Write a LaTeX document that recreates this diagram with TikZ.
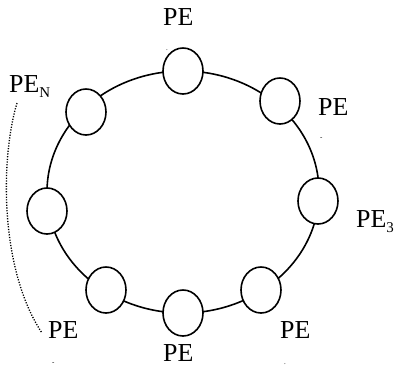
\documentclass[tikz,border=0pt]{standalone}
\usepackage{fontspec}
\setmainfont{Liberation Serif}
\usetikzlibrary{shapes.geometric}
\newcommand{\sbs}[1]{\raisebox{-0.22em}{\fontsize{15}{15}\selectfont #1}}
\begin{document}
\begin{tikzpicture}[x=1bp,y=-1bp,
  pe/.style={draw,line width=1.6bp,fill=white,ellipse,minimum width=40bp,minimum height=46bp,inner sep=0pt},
  lbl/.style={anchor=base west,inner sep=0pt,font=\fontsize{26}{26}\selectfont},
  tickmark/.style={anchor=base west,inner sep=0pt,font=\fontsize{7}{7}\selectfont},
  ring/.style={line width=1.6bp},
  dots/.style={line width=1.3bp,dash pattern=on 1.2bp off 1.5bp}]
\useasboundingbox (0,0) rectangle (398,368);
\draw[ring] (183,192) ellipse [x radius=136, y radius=121];
\node[pe] (p1) at (183,71) {};
\node[pe] (p2) at (280,101) {};
\node[pe] (p3) at (318,201) {};
\node[pe] (p4) at (261,290) {};
\node[pe] (p5) at (183,313) {};
\node[pe] (p6) at (106,290) {};
\node[pe] (p7) at (47,211) {};
\node[pe] (p8) at (86,112) {};
\node[lbl] (l1) at (163,25) {PE};
\node[lbl] (l8) at (9,92) {PE\sbs{N}};
\node[lbl] (l2) at (318,115) {PE};
\node[lbl] (l3) at (356,227) {PE\sbs{3}};
\node[lbl] (l4) at (280,338) {PE};
\node[lbl] (l5) at (163,361) {PE};
\node[lbl] (l6) at (48,338) {PE};
\node[tickmark] (m1) at (166,50) {.};
\node[tickmark] (m2) at (320,139) {-};
\node[tickmark] (m4) at (284,364) {.};
\node[tickmark] (m6) at (52,364) {-};
\coordinate (ds) at (17,103);
\coordinate (de) at (42,333);
\draw[dots] (ds) .. controls (0,160) and (0,270) .. (de);
\end{tikzpicture}
\end{document}
